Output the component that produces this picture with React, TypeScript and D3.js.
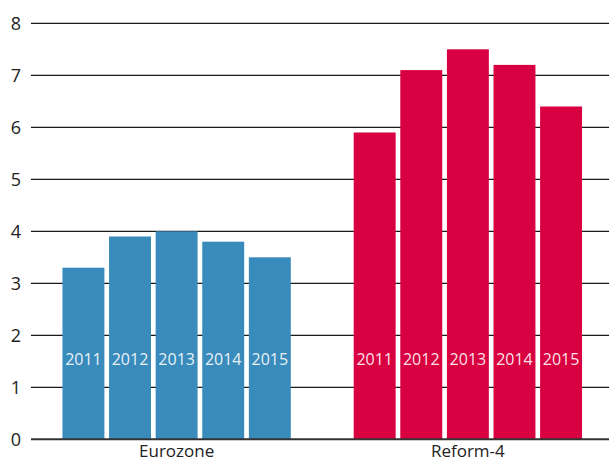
import React from "react";
import * as d3 from "d3";

const groups = ["Eurozone", "Reform-4"];
const years = ["2011", "2012", "2013", "2014", "2015"];
const eurozoneValues = [3.3, 3.9, 4.0, 3.8, 3.5];
const reform4Values = [5.9, 7.1, 7.5, 7.2, 6.4];
const yTicks = [0, 1, 2, 3, 4, 5, 6, 7, 8];
const groupColors = ["#398bbb", "#d90042"];

const W = 609;
const H = 461;

export default function App() {
  const seriesByGroup = [eurozoneValues, reform4Values];
  const y = d3.scaleLinear().domain([0, 8]).range([439.3, 23.3]);
  const x0 = d3
    .scaleBand<string>()
    .domain(groups)
    .range([31, 613.5])
    .paddingInner(0.2)
    .paddingOuter(0.1);
  const x1 = d3
    .scaleBand<string>()
    .domain(years)
    .range([0, x0.bandwidth()])
    .paddingInner(0.1)
    .paddingOuter(0.05);
  const font = "'Open Sans', 'Noto Sans', sans-serif";
  return (
    <svg
      width={W}
      height={H}
      style={{ position: "absolute", left: 0, top: 0 }}
      fontFamily={font}
    >
      <rect width={W} height={H} fill="#fff" />
      {yTicks.map((t) => (
        <g key={t}>
          {t > 0 && (
            <line
              x1={31}
              x2={609}
              y1={y(t)}
              y2={y(t)}
              stroke="#1a1a1a"
              strokeWidth={1.3}
            />
          )}
          <text
            x={21}
            y={y(t)}
            dy="0.35em"
            textAnchor="end"
            fontSize={18}
            fill="#222"
          >
            {t}
          </text>
        </g>
      ))}
      {groups.map((g, gi) => (
        <g key={g} transform={`translate(${x0(g)},0)`}>
          {years.map((yr, i) => {
            const v = seriesByGroup[gi][i];
            const bx = x1(yr)!;
            return (
              <g key={yr}>
                <rect
                  x={bx}
                  y={y(v)}
                  width={x1.bandwidth()}
                  height={y(0) - y(v)}
                  fill={groupColors[gi]}
                />
                <text
                  x={bx + x1.bandwidth() / 2}
                  y={365}
                  textAnchor="middle"
                  fontSize={16}
                  fill="#fff"
                  fillOpacity={0.9}
                >
                  {yr}
                </text>
              </g>
            );
          })}
          <text
            x={x0.bandwidth() / 2}
            y={457}
            textAnchor="middle"
            fontSize={17}
            fill="#222"
          >
            {g}
          </text>
        </g>
      ))}
      <line
        x1={31}
        x2={609}
        y1={y(0)}
        y2={y(0)}
        stroke="#333"
        strokeWidth={2}
      />
    </svg>
  );
}
